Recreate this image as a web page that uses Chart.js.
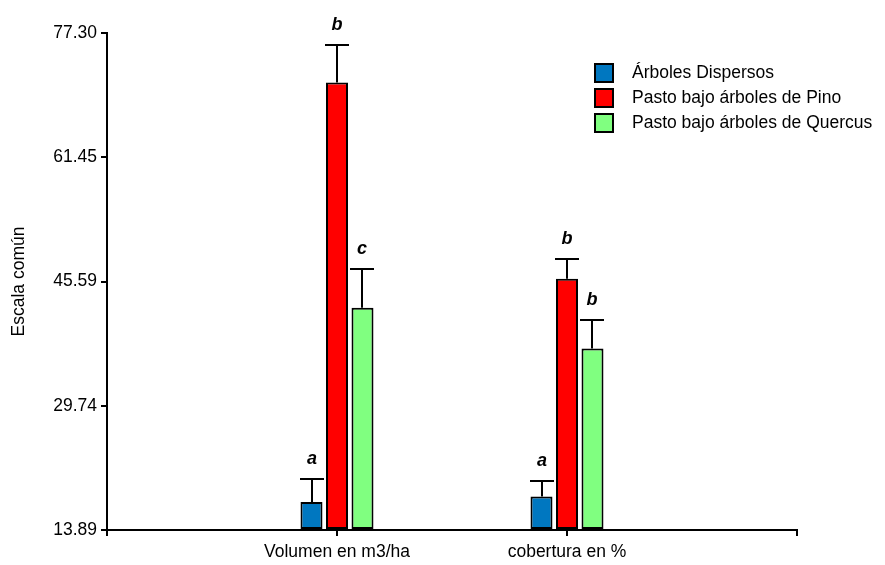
<!DOCTYPE html>
<html>
<head>
<meta charset="utf-8">
<script src="https://cdn.jsdelivr.net/npm/chart.js@4/dist/chart.umd.min.js"></script>
<style>
  html, body { margin: 0; padding: 0; background: #fff; }
  #wrap { width: 885px; height: 565px; }
</style>
</head>
<body>
<div id="wrap"><canvas id="c" width="885" height="565"></canvas></div>
<script>
// Categories (empty slots at both ends give the axis its outer ticks)
const categories = ['', 'Volumen en m3/ha', 'cobertura en %', ''];
const seriesNames = ['Árboles Dispersos', 'Pasto bajo árboles de Pino', 'Pasto bajo árboles de Quercus'];

// Means
const dispersos = [null, 17.46, 18.18, null];
const pino      = [null, 70.98, 45.94, null];
const quercus   = [null, 42.24, 37.06, null];

// Upper error (standard error)
const dispersosErr = [null, 2.97, 2.00, null];
const pinoErr      = [null, 4.85, 2.52, null];
const quercusErr   = [null, 4.89, 3.56, null];

// Significance letters
const dispersosLetters = ['', 'a', 'a', ''];
const pinoLetters      = ['', 'b', 'b', ''];
const quercusLetters   = ['', 'c', 'b', ''];

// Y axis tick values
const yTicks = [13.89, 29.74, 45.59, 61.45, 77.30];

const colors = ['#0077c0', '#ff0000', '#80ff80'];
const FONT = '"Liberation Sans", Arial, sans-serif';
const yMin = yTicks[0], yMax = yTicks[yTicks.length - 1];

const errors = [dispersosErr, pinoErr, quercusErr];
const letters = [dispersosLetters, pinoLetters, quercusLetters];

// Upper error bars with caps, plus letters above them
const errorBarPlugin = {
  id: 'errorBars',
  afterDatasetsDraw(chart) {
    const ctx = chart.ctx;
    const y = chart.scales.y;
    ctx.save();
    ctx.strokeStyle = '#000';
    ctx.lineWidth = 2;
    chart.data.datasets.forEach((ds, di) => {
      const meta = chart.getDatasetMeta(di);
      meta.data.forEach((bar, i) => {
        const v = ds.data[i];
        if (v === null || v === undefined) return;
        const top = Math.round(y.getPixelForValue(v + errors[di][i]));
        const x = Math.round(bar.x);
        ctx.beginPath();
        ctx.moveTo(x, bar.y);
        ctx.lineTo(x, top);
        ctx.moveTo(x - 12, top);
        ctx.lineTo(x + 12, top);
        ctx.stroke();
        ctx.fillStyle = '#000';
        ctx.font = 'italic bold 18px ' + FONT;
        ctx.textAlign = 'center';
        ctx.textBaseline = 'alphabetic';
        ctx.fillText(letters[di][i], x, top - 15.5);
      });
    });
    ctx.restore();
  }
};

// Legend box at top right of the plot
const legendPlugin = {
  id: 'legendBox',
  afterDraw(chart) {
    const ctx = chart.ctx;
    ctx.save();
    ctx.font = '17.5px ' + FONT;
    ctx.textBaseline = 'middle';
    ctx.textAlign = 'left';
    chart.data.datasets.forEach((ds, i) => {
      const cy = 73 + i * 25;
      ctx.fillStyle = ds.backgroundColor;
      ctx.fillRect(595, cy - 9, 18, 18);
      ctx.strokeStyle = '#000';
      ctx.lineWidth = 2;
      ctx.strokeRect(595, cy - 9, 18, 18);
      ctx.fillStyle = '#000';
      ctx.fillText(ds.label, 632, cy);
    });
    ctx.restore();
  }
};

const dsCommon = {
  borderColor: '#000',
  borderWidth: 2,
  borderSkipped: false,
  base: yMin,
  categoryPercentage: 0.3326,
  barPercentage: 0.863
};

new Chart(document.getElementById('c'), {
  type: 'bar',
  data: {
    labels: categories,
    datasets: [
      Object.assign({ label: seriesNames[0], data: dispersos, backgroundColor: colors[0] }, dsCommon),
      Object.assign({ label: seriesNames[1], data: pino, backgroundColor: colors[1] }, dsCommon),
      Object.assign({ label: seriesNames[2], data: quercus, backgroundColor: colors[2] }, dsCommon)
    ]
  },
  options: {
    responsive: false,
    animation: false,
    devicePixelRatio: 1,
    layout: { padding: { top: 33, right: 88, left: 0, bottom: 0 } },
    plugins: {
      legend: { display: false },
      tooltip: { enabled: false }
    },
    scales: {
      x: {
        type: 'category',
        offset: false,
        grid: { offset: false, drawOnChartArea: false, drawTicks: true, tickLength: 6, color: '#000', lineWidth: 2 },
        border: { display: true, color: '#000', width: 2 },
        ticks: { color: '#000', font: { family: FONT, size: 17.5 }, padding: 6, maxRotation: 0, autoSkip: false },
        afterFit(scale) { scale.height = 35; }
      },
      y: {
        min: yMin,
        max: yMax,
        afterBuildTicks(scale) { scale.ticks = yTicks.map(v => ({ value: v })); },
        grid: { drawOnChartArea: false, drawTicks: true, tickLength: 6, color: '#000', lineWidth: 2 },
        border: { display: true, color: '#000', width: 2 },
        ticks: {
          color: '#000',
          font: { family: FONT, size: 17.5 },
          padding: 4,
          callback: (v) => Number(v).toFixed(2)
        },
        title: {
          display: true,
          text: 'Escala común',
          color: '#000',
          font: { family: FONT, size: 17.5 },
          padding: { top: 9, bottom: 0 }
        },
        afterFit(scale) { scale.width = 107; }
      }
    }
  },
  plugins: [errorBarPlugin, legendPlugin]
});
</script>
</body>
</html>
